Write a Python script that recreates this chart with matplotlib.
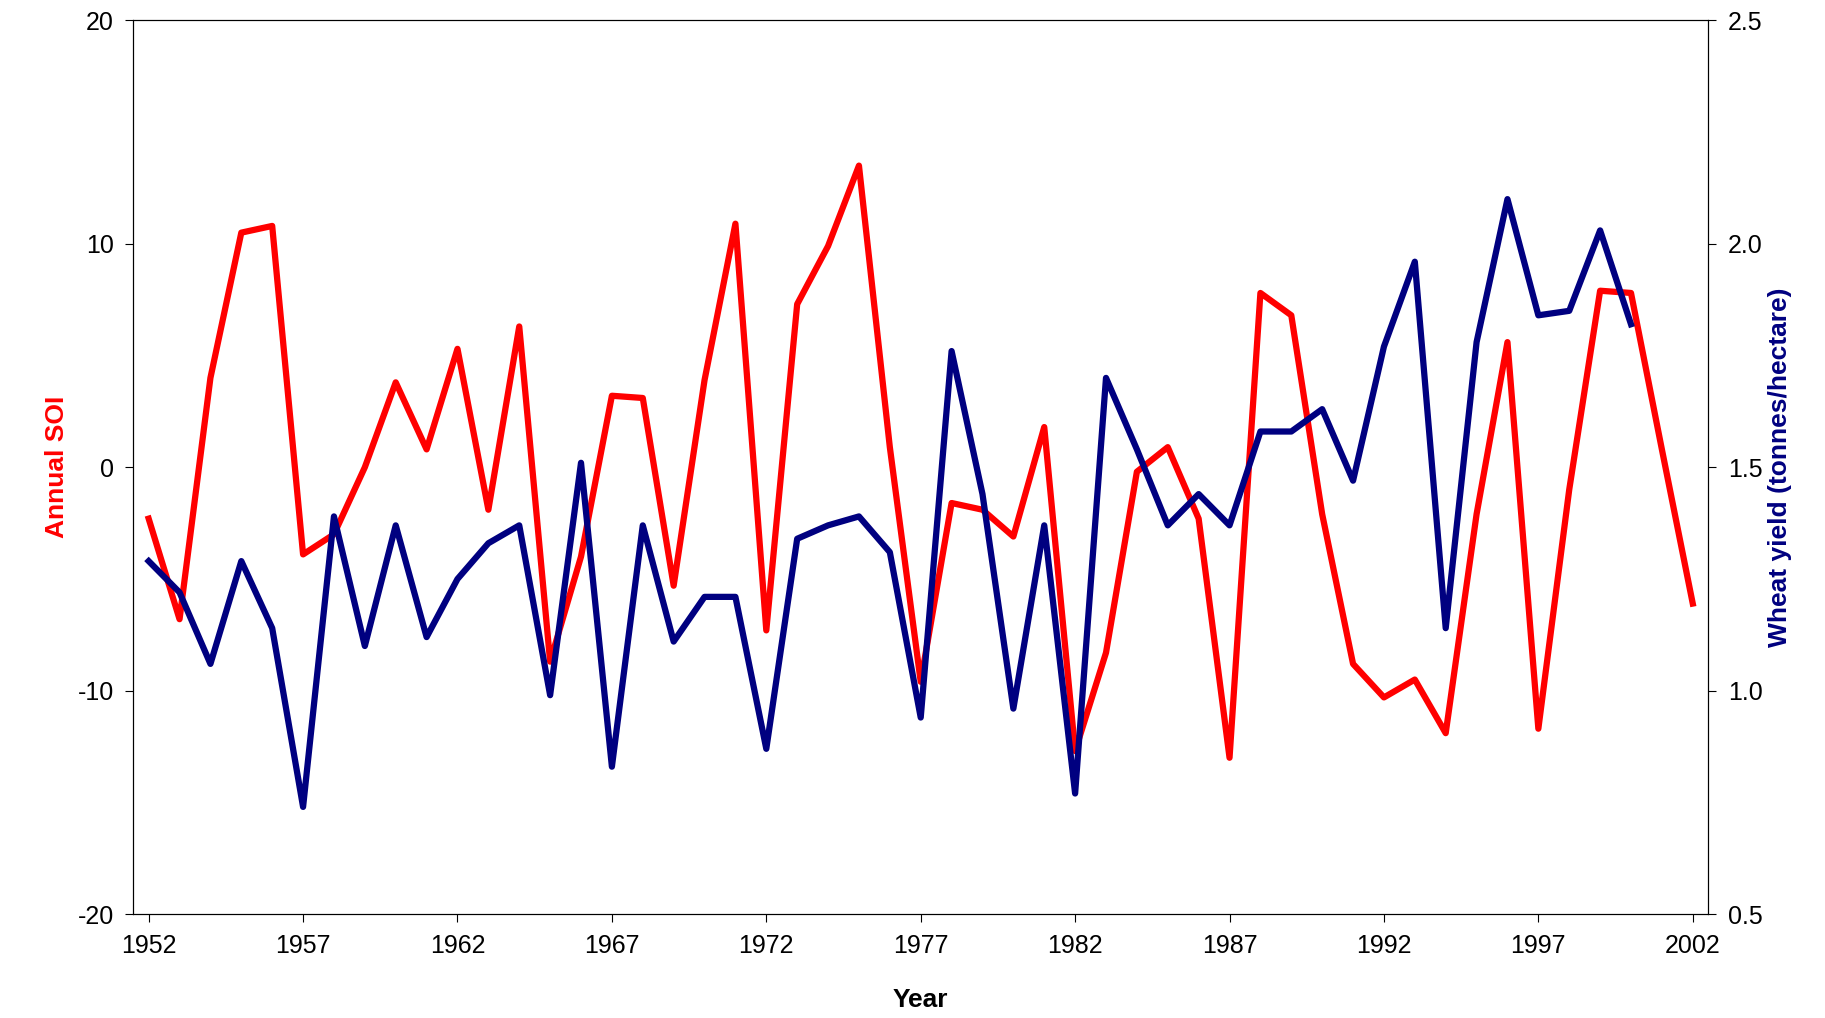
import numpy as np
import matplotlib.pyplot as plt

plt.rcParams['font.family'] = ['Liberation Sans', 'DejaVu Sans']
plt.rcParams['axes.unicode_minus'] = False

# Datos
anios_soi = np.arange(1952, 2003)
soi = [-2.3, -6.8, 4.0, 10.5, 10.8, -3.9, -3.0, 0.0, 3.8, 0.8,
       5.3, -1.9, 6.3, -8.7, -4.0, 3.2, 3.1, -5.3, 3.9, 10.9,
       -7.3, 7.3, 9.9, 13.5, 0.9, -9.6, -1.6, -1.9, -3.1, 1.8,
       -12.7, -8.3, -0.2, 0.9, -2.3, -13.0, 7.8, 6.8, -2.1, -8.8,
       -10.3, -9.5, -11.9, -2.1, 5.6, -11.7, -1.0, 7.9, 7.8, 0.8,
       -6.1]

anios_trigo = np.arange(1952, 2001)
trigo = [1.29, 1.22, 1.06, 1.29, 1.14, 0.74, 1.39, 1.10, 1.37, 1.12,
         1.25, 1.33, 1.37, 0.99, 1.51, 0.83, 1.37, 1.11, 1.21, 1.21,
         0.87, 1.34, 1.37, 1.39, 1.31, 0.94, 1.76, 1.44, 0.96, 1.37,
         0.77, 1.70, 1.54, 1.37, 1.44, 1.37, 1.58, 1.58, 1.63, 1.47,
         1.77, 1.96, 1.14, 1.78, 2.10, 1.84, 1.85, 2.03, 1.82]

fig = plt.figure(figsize=(18.25, 10.18), dpi=100)
ax = fig.add_axes([0.073, 0.102, 0.863, 0.878])
ax.plot(anios_soi, soi, color='#ff0000', lw=4.5)
ax.set_xlim(1951.5, 2002.5)
ax.set_ylim(-20, 20)
ax.set_yticks([-20, -10, 0, 10, 20])
ax.set_xticks(range(1952, 2003, 5))
ax.set_xlabel('Year', fontsize=19, fontweight='bold', labelpad=22)
ax.set_ylabel('Annual SOI', fontsize=19, fontweight='bold', color='#ff0000', labelpad=6)
ax.tick_params(labelsize=18, direction='out', length=6, pad=8)

ax2 = ax.twinx()
ax2.plot(anios_trigo, trigo, color='#000080', lw=4.5)
ax2.set_ylim(0.5, 2.5)
ax2.set_yticks([0.5, 1.0, 1.5, 2.0, 2.5])
ax2.set_yticklabels(['0.5', '1.0', '1.5', '2.0', '2.5'])
ax2.set_ylabel('Wheat yield (tonnes/hectare)', fontsize=19, fontweight='bold', color='#000080')
ax2.tick_params(labelsize=18, direction='out', length=6, pad=8)

plt.savefig('out.png')
